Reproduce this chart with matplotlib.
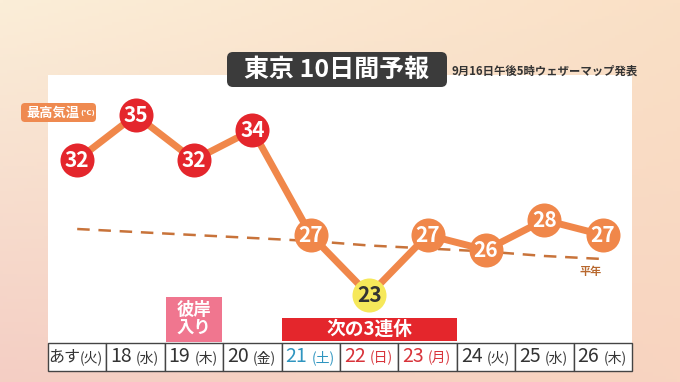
import numpy as np
import matplotlib.pyplot as plt
import matplotlib.transforms as mtransforms
from matplotlib.patches import FancyBboxPatch, Rectangle

plt.rcParams['font.family'] = ['Noto Sans CJK JP', 'DejaVu Sans']

# データ
days = ['あす', '18', '19', '20', '21', '22', '23', '24', '25', '26']
weekdays = ['火', '水', '木', '金', '土', '日', '月', '火', '水', '木']
highs = [32, 35, 32, 34, 27, 23, 27, 26, 28, 27]
normal = [27.4, 27.2, 27.0, 26.8, 26.6, 26.3, 26.1, 25.9, 25.6, 25.4]
day_colors = ['#333333'] * 4 + ['#2f95c0', '#d8333a', '#d8333a'] + ['#333333'] * 3

W, H = 680, 382
fig = plt.figure(figsize=(W / 100, H / 100), dpi=100)

# 背景 (ピクセル座標)
bg = fig.add_axes([0, 0, 1, 1])
bg.set_xlim(0, W)
bg.set_ylim(H, 0)
bg.axis('off')
gx = np.linspace(0, 1, 200)[None, :, None]
gy = np.linspace(0, 1, 120)[:, None, None]
tl = np.array([251, 238, 216]) / 255
tr = np.array([250, 224, 198]) / 255
bl = np.array([244, 206, 196]) / 255
br = np.array([248, 212, 192]) / 255
grad = (tl * (1 - gx) * (1 - gy) + tr * gx * (1 - gy)
        + bl * (1 - gx) * gy + br * gx * gy)
bg.imshow(grad, extent=[0, W, H, 0], aspect='auto', zorder=0)
bg.add_patch(Rectangle((48, 75), 584, 285, facecolor='white', edgecolor='none', zorder=1))

# タイトル
bg.add_patch(FancyBboxPatch((227, 52), 220, 35, boxstyle='round,pad=0,rounding_size=6',
                            facecolor='#3b3b3b', edgecolor='none', zorder=2))
bg.text(337, 70, '東京 10日間予報', color='white', fontsize=18, fontweight='bold',
        ha='center', va='center', zorder=3)
bg.text(451, 71, '9月16日午後5時ウェザーマップ発表', color='#333333', fontsize=8.2,
        fontweight='bold', ha='left', va='center', zorder=3)

# 最高気温ラベル
bg.add_patch(FancyBboxPatch((21, 103), 75, 19, boxstyle='round,pad=0,rounding_size=4',
                            facecolor='#ef8a50', edgecolor='none', zorder=2))
bg.text(26, 112.5, '最高気温', color='white', fontsize=9.5, fontweight='bold',
        ha='left', va='center', zorder=3)
bg.text(80, 113.5, '(℃)', color='white', fontsize=5, fontweight='bold',
        ha='left', va='center', zorder=3, family=['DejaVu Sans'])

# グラフ (x: 日の番号, y: 気温)
ax = fig.add_axes([48 / W, 0, 584 / W, 1])
ax.set_xlim(-0.5, 9.5)
ax.set_ylim(27 - (H - 235) / 15, 27 + 235 / 15)
ax.axis('off')
ax.patch.set_alpha(0)
x = np.arange(len(days))

ax.plot(x, normal, color='#c8733a', lw=1.8, ls=(0, (5, 3.5)), zorder=2)
ax.plot(x, highs, color='#f0874a', lw=5, solid_joinstyle='round', zorder=3)
for xi, t in zip(x, highs):
    if t >= 30:
        fc, tc = '#e4262c', 'white'
    elif t <= 23:
        fc, tc = '#f6e85a', '#333333'
    else:
        fc, tc = '#f0874a', 'white'
    ax.plot(xi, t, 'o', ms=24.5, color=fc, mec='none', zorder=4)
    ax.text(xi, t - 0.05, str(t), color=tc, fontsize=15, fontweight='bold',
            ha='center', va='center', zorder=5)

# 表・注記 (x: 日の番号, y: ピクセル)
trans = mtransforms.blended_transform_factory(ax.transData, bg.transData)
ax.text(x[-1] - 0.2, 272, '平年', transform=trans, color='#b8682e', fontsize=8,
        fontweight='bold', ha='center', va='center', zorder=5)

ax.add_patch(Rectangle((1.52, 297), 0.96, 45, transform=trans, facecolor='#f0768f',
                       edgecolor='none', zorder=2))
ax.text(2, 319, '彼岸\n入り', transform=trans, color='white', fontsize=12.5,
        fontweight='bold', ha='center', va='center', linespacing=0.95, zorder=3)

ax.add_patch(Rectangle((3.5, 318), 3, 23, transform=trans, facecolor='#e4262c',
                       edgecolor='none', zorder=2))
ax.text(5, 329, '次の3連休', transform=trans, color='white', fontsize=13.5,
        fontweight='bold', ha='center', va='center', zorder=3)

for xi, d, w, c in zip(x, days, weekdays, day_colors):
    ax.add_patch(Rectangle((xi - 0.5, 343), 1, 28, transform=trans, facecolor='white',
                           edgecolor='#444444', lw=1, zorder=2, clip_on=False))
    if d == 'あす':
        ax.text(xi + 0.05, 357, d, transform=trans, color=c, fontsize=11.5,
                ha='right', va='center', zorder=3)
        ax.text(xi + 0.05, 357.5, f'({w})', transform=trans, color=c, fontsize=10,
                ha='left', va='center', zorder=3)
    else:
        ax.text(xi - 0.06, 356.5, d, transform=trans, color=c, fontsize=14,
                ha='right', va='center', zorder=3)
        ax.text(xi + 0.01, 357.5, f'({w})', transform=trans, color=c, fontsize=10,
                ha='left', va='center', zorder=3)

fig.savefig('out.png', dpi=100)
